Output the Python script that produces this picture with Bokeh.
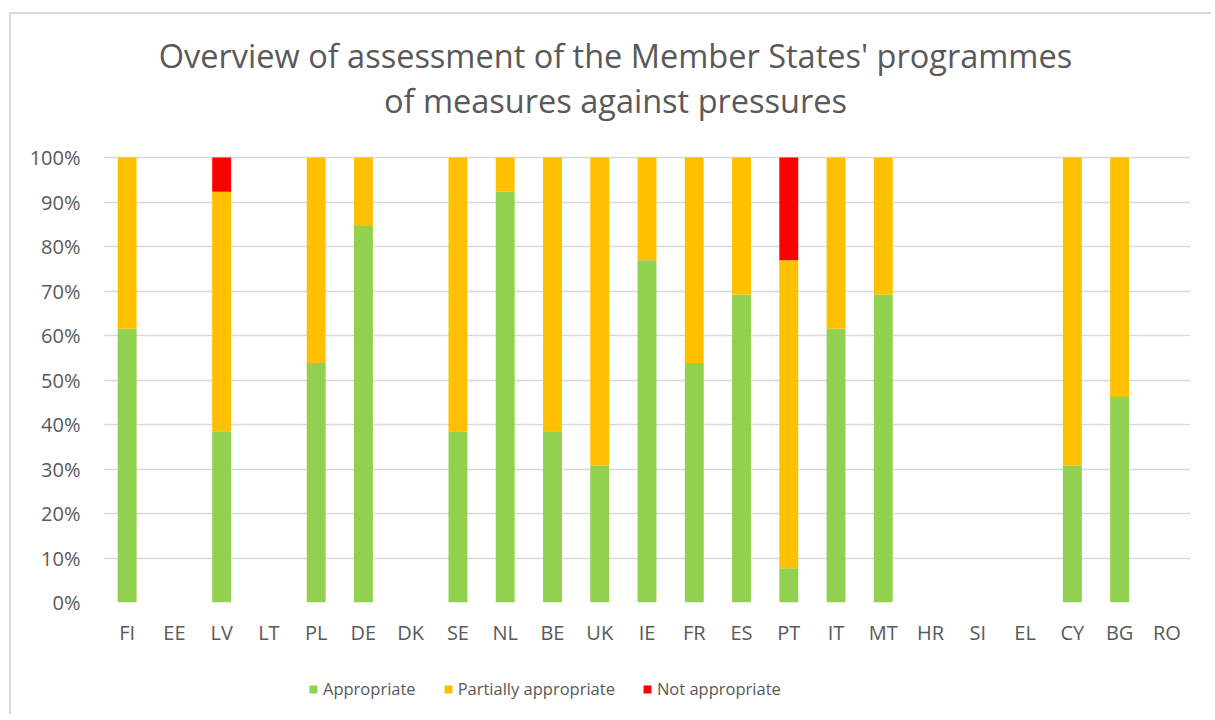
from bokeh.plotting import figure
from bokeh.layouts import column
from bokeh.models import (ColumnDataSource, Legend, LegendItem,
                          NumeralTickFormatter, FixedTicker, Range1d)
from bokeh.transform import dodge
from bokeh.core.properties import value
from bokeh.embed import file_html
from bokeh.resources import INLINE

countries = ["FI", "EE", "LV", "LT", "PL", "DE", "DK", "SE", "NL", "BE", "UK", "IE",
             "FR", "ES", "PT", "IT", "MT", "HR", "SI", "EL", "CY", "BG", "RO"]
appropriate = [61.5, 0, 38.5, 0, 53.8, 84.6, 0, 38.5, 92.3, 38.5, 30.8, 76.9,
               53.8, 69.2, 7.7, 61.5, 69.2, 0, 0, 0, 30.8, 46.2, 0]
partially = [38.5, 0, 53.8, 0, 46.2, 15.4, 0, 61.5, 7.7, 61.5, 69.2, 23.1,
             46.2, 30.8, 69.2, 38.5, 30.8, 0, 0, 0, 69.2, 53.8, 0]
not_appropriate = [0, 0, 7.7, 0, 0, 0, 0, 0, 0, 0, 0, 0,
                   0, 0, 23.1, 0, 0, 0, 0, 0, 0, 0, 0]
series = ["Appropriate", "Partially appropriate", "Not appropriate"]
colors = ["#92D050", "#FFC000", "#FF0000"]
title_lines = ["Overview of assessment of the Member States' programmes",
               "of measures against pressures"]

src = ColumnDataSource(dict(
    country=countries,
    Appropriate=[v / 100 for v in appropriate],
    Partially=[v / 100 for v in partially],
    Not=[v / 100 for v in not_appropriate],
))

FONT = "Open Sans"
TXT = "#595959"

# page-pixel layout (canvas starts at page x=11, y=14)
CX, CY, CW = 11, 14, 1200
F_LEFT, F_RIGHT, F_TOP, F_BOTTOM = 103, 1190, 20, 602
MAIN_BOTTOM, LEG_BOTTOM = 660, 714
Y0_PX, Y100_PX = 602, 157
PX_PER_UNIT = Y0_PX - Y100_PX
y_end = (F_BOTTOM - F_TOP) / PX_PER_UNIT
CAT_PX = (F_RIGHT - F_LEFT) / len(countries)

def ypx(py):
    return (F_BOTTOM - py) / PX_PER_UNIT

p = figure(x_range=countries, y_range=Range1d(0, y_end),
           width=CW, height=MAIN_BOTTOM - CY,
           output_backend="svg", toolbar_location=None,
           min_border_left=F_LEFT - CX, min_border_right=CX + CW - F_RIGHT,
           min_border_top=F_TOP - CY, min_border_bottom=MAIN_BOTTOM - F_BOTTOM)
p.outline_line_color = None
p.background_fill_color = "white"
p.border_fill_color = "white"

rs = p.vbar_stack(["Appropriate", "Partially", "Not"], x="country", width=0.4,
                  color=colors, line_color=None, source=src)

p.xgrid.grid_line_color = None
p.ygrid.grid_line_color = "#d9d9d9"
p.ygrid.grid_line_width = 1.5
p.yaxis.ticker = FixedTicker(ticks=[i / 10 for i in range(11)])
p.yaxis.formatter = NumeralTickFormatter(format="0%")
for ax in (p.xaxis, p.yaxis):
    ax.axis_line_color = None
    ax.major_tick_line_color = None
    ax.minor_tick_line_color = None
    ax.major_label_text_font = FONT
    ax.major_label_text_font_size = "20px"
    ax.major_label_text_color = TXT
p.xaxis.major_label_standoff = 10
p.yaxis.major_label_standoff = 17

mid = countries[len(countries) // 2]
title_src = ColumnDataSource(dict(x=[mid, mid], y=[ypx(55), ypx(100)], t=title_lines))
p.text(x=dodge("x", (615 - (F_LEFT + F_RIGHT) / 2) / CAT_PX, range=p.x_range),
       y="y", text="t", source=title_src,
       text_font=value(FONT), text_font_size="32.5px", text_color=TXT,
       text_align="center", text_baseline="alphabetic")

# legend strip (its frame is aligned with the main frame by the column layout)
lf = figure(width=CW, height=LEG_BOTTOM - MAIN_BOTTOM, x_range=Range1d(0, 1),
            y_range=Range1d(0, 1), x_axis_type=None, y_axis_type=None,
            output_backend="svg", toolbar_location=None,
            min_border=0, min_border_left=0, min_border_right=0,
            min_border_top=0, min_border_bottom=0)
lf.outline_line_color = None
lf.grid.visible = False
lf.border_fill_color = "white"
# legend proxies, placed outside the visible range
dummy = [lf.vbar(x=[5], top=[5], bottom=[4], width=0.1, color=c, line_color=None)
         for c in colors]
legend = Legend(items=[LegendItem(label=s, renderers=[r]) for s, r in zip(series, dummy)],
                orientation="horizontal", location=(308 - F_LEFT, LEG_BOTTOM - 700),
                padding=0, margin=0, spacing=27, label_standoff=5,
                glyph_width=10, glyph_height=10, label_height=20,
                label_text_font=FONT, label_text_font_size="16.5px",
                label_text_color=TXT, border_line_color=None,
                background_fill_alpha=0)
lf.add_layout(legend)

page = column(p, lf, spacing=0,
              styles={"margin-left": "9px", "margin-top": "12px",
                      "border-left": "2px solid #d9d9d9",
                      "border-top": "2px solid #d9d9d9"})

open("out.html", "w").write(file_html(page, INLINE))
